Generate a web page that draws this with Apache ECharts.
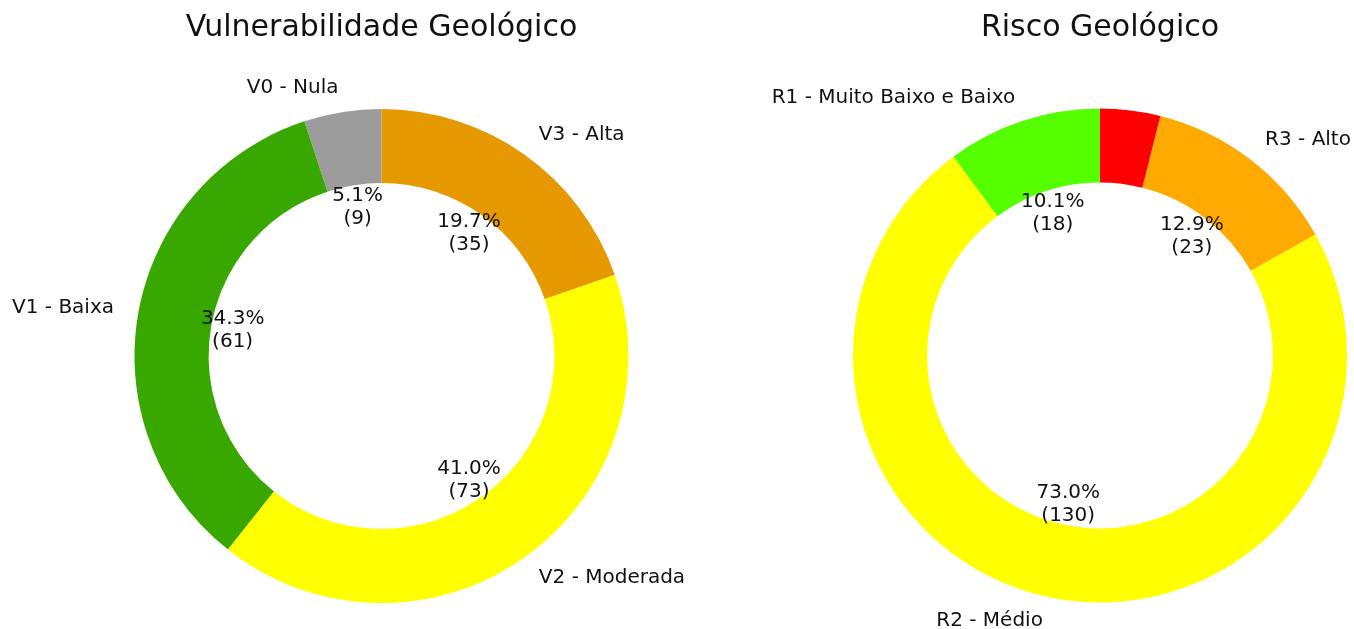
<!DOCTYPE html>
<html>
<head>
<meta charset="utf-8">
<script src="https://cdn.jsdelivr.net/npm/echarts@6/dist/echarts.min.js"></script>
<style>
  html, body { margin: 0; background: #fff; }
  #main { width: 1354px; height: 629px; }
</style>
</head>
<body>
<div id="main"></div>
<script>
// vulnerabilidade
const vulnTitle = 'Vulnerabilidade Geológico';
const vulnNames = ['V0 - Nula', 'V1 - Baixa', 'V2 - Moderada', 'V3 - Alta'];
const vulnCounts = [9, 61, 73, 35];
const vulnColors = ['#9c9c9c', '#38a800', '#ffff00', '#e69800'];

// risco (the small red slice has no label in the original)
const riscoTitle = 'Risco Geológico';
const riscoNames = ['R1 - Muito Baixo e Baixo', 'R2 - Médio', 'R3 - Alto', ''];
const riscoCounts = [18, 130, 23, 7];
const riscoColors = ['#55ff00', '#ffff00', '#ffaa00', '#ff0000'];

const minPct = 5; // slices below this get no labels
const R = 247;
const font = 'DejaVu Sans';

function donut(names, counts, colors, center) {
  const total = counts.reduce((a, b) => a + b, 0);
  const pct = v => v / total * 100;
  const ring = {
    type: 'pie', center, radius: [R * 0.7, R],
    startAngle: 90, clockwise: false, avoidLabelOverlap: false, silent: true,
    itemStyle: { borderWidth: 0 },
    label: {
      position: 'outside', fontSize: 20, fontFamily: font, color: '#111',
      distanceToLabelLine: 0,
      formatter: p => pct(p.value) < minPct ? '' : p.name
    },
    labelLine: { show: false, length: R * 0.1, length2: 0 },
    data: names.map((n, i) => ({ name: n, value: counts[i], itemStyle: { color: colors[i] } }))
  };
  // transparent full pie, its inside labels land at 0.6 R
  const pcts = {
    type: 'pie', center, radius: [0, R * 1.2],
    startAngle: 90, clockwise: false, avoidLabelOverlap: false, silent: true,
    itemStyle: { color: 'rgba(0,0,0,0)', borderWidth: 0 },
    label: {
      position: 'inside', fontSize: 20, lineHeight: 23, fontFamily: font, color: '#111',
      offset: [0, 1],
      formatter: p => pct(p.value) < minPct ? '' : pct(p.value).toFixed(1) + '%\n(' + p.value + ')'
    },
    labelLine: { show: false },
    data: names.map((n, i) => ({ name: n, value: counts[i] }))
  };
  return [ring, pcts];
}

const chart = echarts.init(document.getElementById('main'));
chart.setOption({
  animation: false,
  backgroundColor: '#fff',
  title: [
    { text: vulnTitle, left: 381.5, top: 13, padding: 0, textAlign: 'center',
      textStyle: { fontFamily: font, fontSize: 30, fontWeight: 'normal', color: '#111' } },
    { text: riscoTitle, left: 1100, top: 13, padding: 0, textAlign: 'center',
      textStyle: { fontFamily: font, fontSize: 30, fontWeight: 'normal', color: '#111' } }
  ],
  series: [
    ...donut(vulnNames, vulnCounts, vulnColors, [381.5, 356]),
    ...donut(riscoNames, riscoCounts, riscoColors, [1100, 355.5])
  ]
});
</script>
</body>
</html>
